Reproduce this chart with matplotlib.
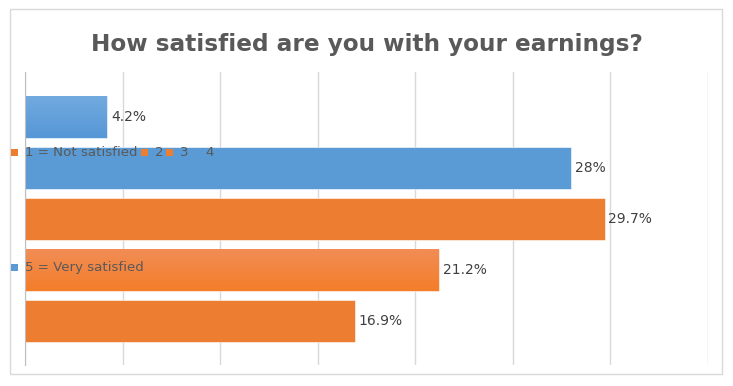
import numpy as np
import matplotlib.pyplot as plt
from matplotlib.colors import LinearSegmentedColormap
from matplotlib.patches import Rectangle

# data, top to bottom
values = [4.2, 28.0, 29.7, 21.2, 16.9]
labels = ["4.2%", "28%", "29.7%", "21.2%", "16.9%"]
colors = ["#5B9BD5", "#5B9BD5", "#ED7D31", "#ED7D31", "#ED7D31"]
gradient = [("#71AADF", "#5797D6"), None, None, ("#F18D55", "#F47E2A"), None]
legend_top = [("1 = Not satisfied", "#ED7D31"), ("2", "#ED7D31"), ("3", "#ED7D31"), ("4", "#5B9BD5")]
legend_bottom = [("5 = Very satisfied", "#5B9BD5")]

W, H = 733, 386
fig = plt.figure(figsize=(W / 100, H / 100), dpi=100)
fig.patches.append(Rectangle((10 / W, 1 - 374 / H), 712 / W, 365 / H, transform=fig.transFigure,
                             facecolor="white", edgecolor="#D9D9D9", linewidth=1, zorder=-5))

ax = fig.add_axes([25 / W, 1 - 365 / H, 683 / W, 293 / H])
ax.set_facecolor("none")
y = np.arange(len(values))
h = 0.82
bars = ax.barh(y, values, height=h, color=colors, edgecolor="white", linewidth=0.4, zorder=2)
for i, g in enumerate(gradient):
    if g:
        cm = LinearSegmentedColormap.from_list("g%d" % i, [g[0], g[1]])
        ax.imshow(np.linspace(0, 1, 64).reshape(-1, 1), cmap=cm, aspect="auto",
                  extent=(0, values[i], y[i] + h / 2, y[i] - h / 2), zorder=2.5)
for i, v in enumerate(values):
    ax.text(v + 0.2, y[i], labels[i], va="center", ha="left", fontsize=10, color="#404040", zorder=3)

ax.set_xlim(0, 35)
ax.set_ylim(4.86, -0.88)
ax.set_xticks(np.arange(0, 36, 5))
ax.grid(axis="x", color="#D9D9D9", linewidth=1, zorder=0)
ax.tick_params(left=False, bottom=False, labelleft=False, labelbottom=False)
for s in ["top", "right", "bottom"]:
    ax.spines[s].set_visible(False)
ax.spines["left"].set_color("#BFBFBF")
ax.set_axisbelow(True)

fig.text(0.5, 1 - 45 / H, "How satisfied are you with your earnings?", ha="center", va="center",
         fontsize=16.7, fontweight="bold", color="#595959")

# legend drawn as overlaid text, like in the source
def legend_row(items, x, yy):
    for txt, c in items:
        fig.patches.append(Rectangle((x / W, 1 - (yy + 3.5) / H), 7 / W, 7 / H, transform=fig.transFigure,
                                     facecolor=c, edgecolor="none", zorder=5))
        t = fig.text((x + 14) / W, 1 - yy / H, txt, ha="left", va="center", fontsize=9.6, color="#595959", zorder=6)
        fig.canvas.draw()
        bb = t.get_window_extent()
        x = bb.x1 + 3

legend_row(legend_top, 11, 152)
legend_row(legend_bottom, 11, 267)

fig.savefig("out.png", dpi=100)
